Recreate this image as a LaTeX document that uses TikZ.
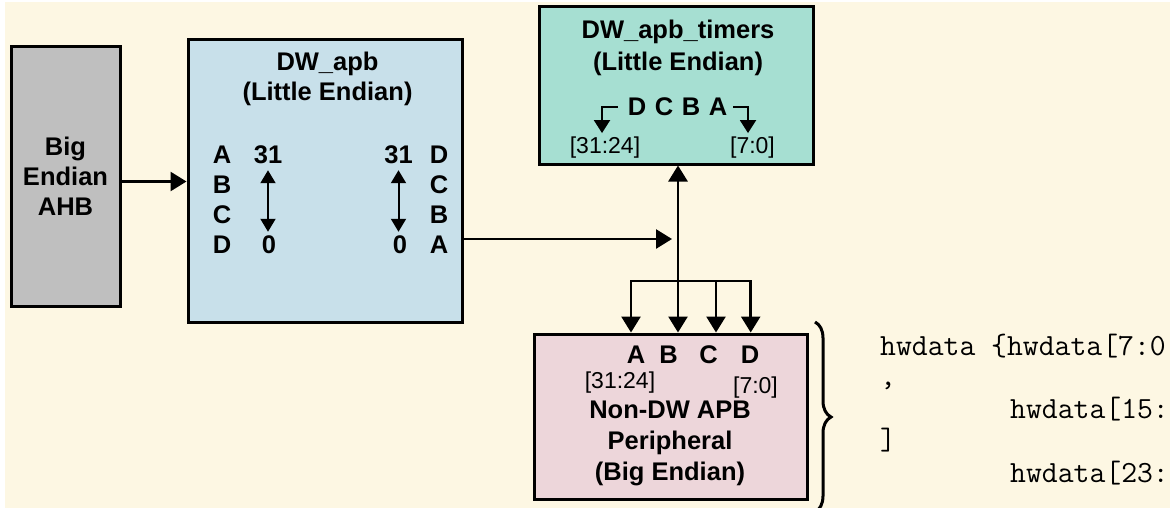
\documentclass[tikz,border=0pt]{standalone}
\usepackage{fontspec}
\setmainfont{Liberation Sans}
\usetikzlibrary{math,arrows.meta,decorations.pathreplacing}

\definecolor{cream}{HTML}{FDF7E3}
\definecolor{ahbgray}{HTML}{BFBFBF}
\definecolor{apbblue}{HTML}{C8E0EA}
\definecolor{timerteal}{HTML}{A6DFD2}
\definecolor{periphpink}{HTML}{EDD6DA}

\begin{document}
\begin{tikzpicture}[x=1pt,y=-1pt,
  blk/.style={draw,line width=3pt,inner sep=0pt},
  title/.style={font=\fontsize{25.5}{30}\selectfont\bfseries,align=center,inner sep=0pt},
  lbl/.style={font=\fontsize{25.5}{30}\selectfont\bfseries,inner sep=0pt},
  rng/.style={font=\fontsize{23}{26}\selectfont,inner sep=0pt},
  code/.style={font=\fontsize{30.8}{32}\selectfont\ttfamily,anchor=base west,inner sep=0pt},
  bus/.style={line width=2.7pt,line cap=rect,-{Triangle[length=16pt,width=19pt]}},
  tiny/.style={line width=2pt,-{Triangle[length=13pt,width=16pt]}},
  tinyboth/.style={line width=2pt,{Triangle[length=13pt,width=15pt]}-{Triangle[length=13pt,width=15pt]}}]
  \tikzmath{\row = 30;}
  \tikzmath{\bx = 678;}
  \tikzmath{\by = 281;}

  \useasboundingbox (0,0) rectangle (1174,508);
  \fill[white] (0,0) rectangle (1174,508);
  \fill[cream] (5,2) rectangle (1170,508);

  % big endian master
  \node[blk,fill=ahbgray,title,minimum width=109pt,minimum height=259pt] (ahb) at (65.5,176.5) {Big\\Endian\\AHB};

  % bridge
  \node[blk,fill=apbblue,minimum width=274pt,minimum height=283pt] (apb) at (325,181.3) {};
  \node[title] (apbname) at (327.5,79) {DW\_apb\\(Little Endian)};
  \foreach \l [count=\i from 0] in {A,B,C,D}
    \node[lbl] (in\l) at (222,155+\row*\i) {\l};
  \foreach \l [count=\i from 0] in {D,C,B,A}
    \node[lbl] (out\l) at (439,155+\row*\i) {\l};
  \node[lbl] (inhi) at (268,155) {31};
  \node[lbl] (inlo) at (269,245) {0};
  \node[lbl] (outhi) at (398.5,155) {31};
  \node[lbl] (outlo) at (400,245) {0};
  \draw[tinyboth,shorten <=6pt,shorten >=4pt] (inhi.south) -- (inhi.south |- inlo.north);
  \draw[tinyboth,shorten <=6pt,shorten >=4pt] (outhi.south) -- (outhi.south |- outlo.north);

  % timers
  \node[blk,fill=timerteal,minimum width=274pt,minimum height=157pt] (tmr) at (676,85.5) {};
  \node[title,font=\fontsize{25.5}{32}\selectfont\bfseries] (tmrname) at (678,48) {DW\_apb\_timers\\(Little Endian)};
  \foreach \l [count=\i from 0] in {D,C,B,A}
    \node[lbl] (t\l) at (637+27*\i,107) {\l};
  \node[rng] (tmrhi) at (605,148) {[31:24]};
  \node[rng] (tmrlo) at (752.5,148) {[7:0]};
  \draw[tiny] ([xshift=-10pt]tD.west) -| ([xshift=-3pt,yshift=4pt]tmrhi.north);
  \draw[tiny] ([xshift=6pt]tA.east) -| ([xshift=-4.5pt,yshift=4pt]tmrlo.north);

  % big endian slave
  \node[blk,fill=periphpink,minimum width=273pt,minimum height=165pt] (per) at (670.5,416.5) {};
  \node[lbl] (pA) at (636,355) {A};
  \node[lbl] (pB) at (668.5,355) {B};
  \node[lbl] (pC) at (708.5,355) {C};
  \node[lbl] (pD) at (750,355) {D};
  \node[rng] (perhi) at (620,383) {[31:24]};
  \node[rng] (perlo) at (755.5,388) {[7:0]};
  \node[title,font=\fontsize{25.5}{31}\selectfont\bfseries] (pername) at (670,443.5) {Non-DW APB\\Peripheral\\(Big Endian)};

  % buses
  \coordinate (jn) at (\bx,239);
  \coordinate (busA) at (631,\by);
  \coordinate (busC) at (716,\by);
  \coordinate (busD) at (750.7,\by);
  \draw[bus] ([yshift=-5pt]ahb.east) -- ([yshift=-5pt]ahb.east -| apb.west);
  \draw[bus,shorten >=6pt] (apb.east |- jn) -- (jn);
  \draw[line width=2.7pt,{Triangle[length=16pt,width=19pt]}-{Triangle[length=16pt,width=19pt]}] (tmr.south -| jn) -- (per.north -| jn);
  \draw[bus] (busD) -- (busA) -- (busA |- per.north);
  \draw[bus] (busC) -- (busC |- per.north);
  \draw[bus] (busD) -- (busD |- per.north);

  % byte swap
  \draw[line width=3pt,decorate,decoration={brace,amplitude=16pt}] (815,322) -- (815,512);
  \begin{scope}
    \clip (5,2) rectangle (1170,508);
    \node[code] (c1) at (880,355) {hwdata \{hwdata[7:0};
    \node[code] (c2) at (880,385) {,};
    \node[code] (c3) at (1010,418) {hwdata[15:};
    \node[code] (c4) at (880,449.5) {]};
    \node[code] (c5) at (1010,482) {hwdata[23:};
  \end{scope}
\end{tikzpicture}
\end{document}
